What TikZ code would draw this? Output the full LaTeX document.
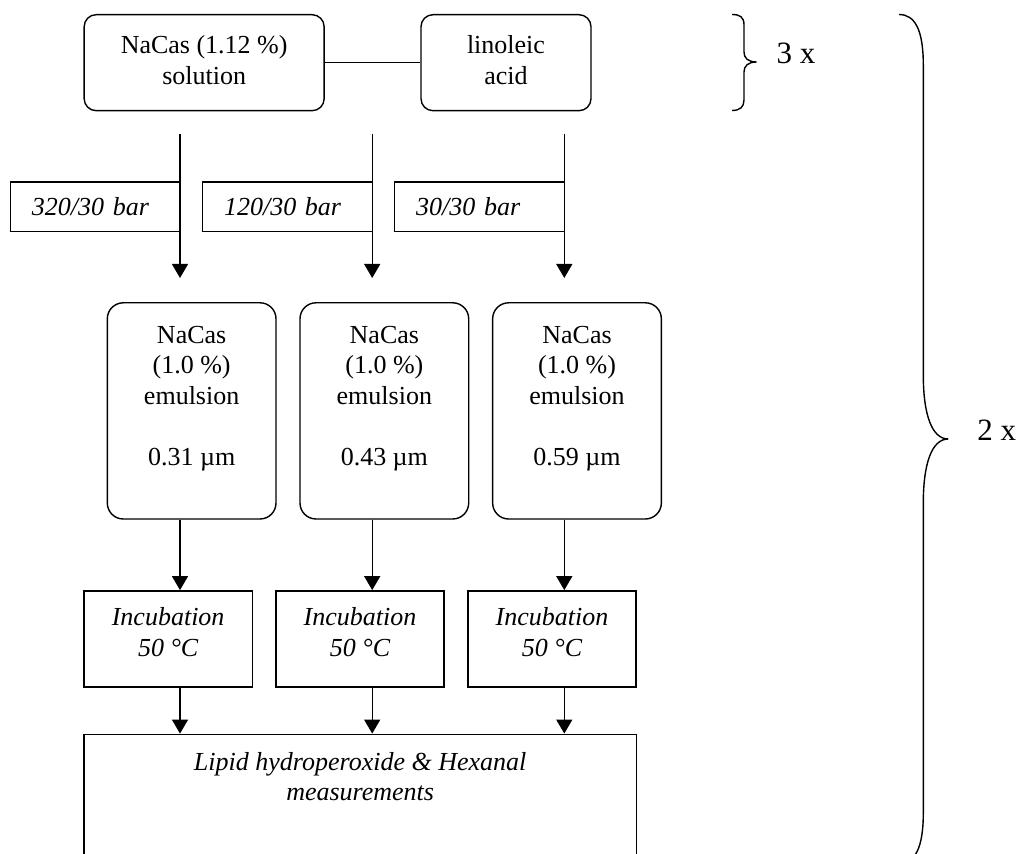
\documentclass[tikz,border=0pt]{standalone}
\usepackage{fontspec}
\setmainfont{Liberation Serif}
\usetikzlibrary{arrows.meta}
\newcommand\mfont{\fontsize{13}{15.25}\selectfont}
\newcommand\bfontx{\fontsize{15.5}{18}\selectfont}
\begin{document}
\begin{tikzpicture}[x=0.5pt,y=-0.5pt,
  line width=0.7pt,
  every node/.style={font=\mfont},
  rbox/.style={draw,rounded corners=6pt,inner sep=0pt,align=center,minimum height=48pt},
  ebox/.style={draw,rounded corners=8pt,inner sep=0pt,minimum width=84.35pt,minimum height=108.1pt},
  ibox/.style={draw,inner sep=0pt,minimum width=84.15pt,minimum height=48pt},
  pbox/.style={inner xsep=10.5pt,inner ysep=0pt,text width=63.2pt,align=left,minimum height=24pt,anchor=east,font=\mfont\itshape},
  btext/.style={inner sep=0pt,align=center,anchor=north},
  arr/.style={-{Triangle[width=8pt,length=7pt]}}
]
\useasboundingbox (0,0) rectangle (1018,854);
\clip (0,0) rectangle (1018,854);

% arrow columns
\coordinate (k1) at (180,0);
\coordinate (k2) at (372.2,0);
\coordinate (k3) at (564.3,0);

% top boxes
\node[rbox,minimum width=120pt] (sol) at (204.15,62.7) {NaCas (1.12 \%)\strut\\solution\strut};
\node[rbox,minimum width=85pt] (lin) at (506,62.7) {linoleic\strut\\acid\strut};
\draw (sol.east) -- (lin.west);

% pressure labels
\node[pbox] (p1) at (180,206.7) {320/30 bar};
\node[pbox] (p2) at (372.2,206.7) {120/30 bar};
\node[pbox] (p3) at (564.3,206.7) {30/30 bar};
\foreach \p in {p1,p2,p3}
  \draw (\p.north east) -- (\p.north west) -- (\p.south west) -- (\p.south east);

% top arrows
\coordinate (t1) at (180,134);   \coordinate (u1) at (180,278);
\coordinate (t2) at (372.2,134); \coordinate (u2) at (372.2,278);
\coordinate (t3) at (564.3,134); \coordinate (u3) at (564.3,278);
\draw[arr] (t1) -- (u1);
\draw[arr] (t2) -- (u2);
\draw[arr] (t3) -- (u3);

% emulsion boxes
\node[ebox] (e1) at (191.65,410.9) {};
\node[ebox] (e2) at (384.35,410.9) {};
\node[ebox] (e3) at (577,410.9) {};
\node[btext,yshift=-9.5pt] (e1t) at (e1.north) {NaCas\strut\\(1.0 \%)\strut\\emulsion\strut\\\strut\\0.31 µm\strut};
\node[btext,yshift=-9.5pt] (e2t) at (e2.north) {NaCas\strut\\(1.0 \%)\strut\\emulsion\strut\\\strut\\0.43 µm\strut};
\node[btext,yshift=-9.5pt] (e3t) at (e3.north) {NaCas\strut\\(1.0 \%)\strut\\emulsion\strut\\\strut\\0.59 µm\strut};

% incubation boxes
\node[ibox] (i1) at (168.15,638.85) {};
\node[ibox] (i2) at (360,638.85) {};
\node[ibox] (i3) at (552,638.85) {};
\foreach \i in {i1,i2,i3}
  \node[btext,yshift=-6.7pt,font=\mfont\itshape] (\i t) at (\i.north) {Incubation\strut\\50 °C\strut};

% measurement box
\node[draw,inner sep=0pt,minimum width=276.15pt,minimum height=82.85pt] (m) at (360.15,817.15) {};
\node[btext,yshift=-7.2pt,font=\mfont\itshape] (mt) at (m.north) {Lipid hydroperoxide \& Hexanal\strut\\measurements\strut};

\foreach \n in {1,2,3}{
  \draw[arr] (e\n.south -| k\n) -- (i\n.north -| k\n);
  \draw[arr] (i\n.south -| k\n) -- (m.north -| k\n);
}

% braces
\draw (732,14.5) .. controls (740,14.5) and (744,17) .. (744,25) -- (744,52)
  .. controls (744,58) and (748,62) .. (756.5,62)
  .. controls (748,62) and (744,66) .. (744,72) -- (744,100)
  .. controls (744,107) and (740,110.5) .. (732,110.5);
\node[anchor=base west,inner sep=0pt,font=\bfontx] (n3) at (776,64) {3 x};
\draw (899,14.5) .. controls (915,14.5) and (923.3,30) .. (923.3,65) -- (923.3,375)
  .. controls (923.3,415) and (932,439) .. (948.3,439)
  .. controls (932,439) and (923.3,463) .. (923.3,503) -- (923.3,813)
  .. controls (923.3,848) and (915,863.5) .. (899,863.5);
\node[anchor=base west,inner sep=0pt,font=\bfontx] (n2) at (976.7,440.7) {2 x};
\end{tikzpicture}
\end{document}
